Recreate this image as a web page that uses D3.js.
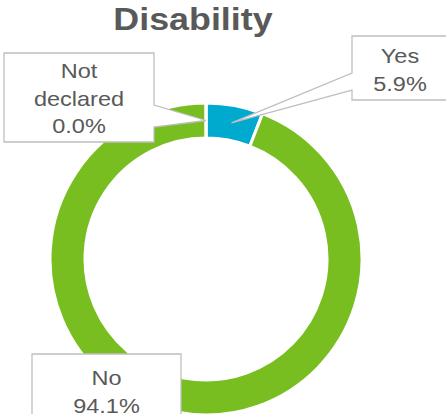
<!DOCTYPE html>
<html>
<head>
<meta charset="utf-8">
<script src="https://cdn.jsdelivr.net/npm/d3@7"></script>
<style>
  body { margin: 0; background: #fff; }
  svg { display: block; font-family: Arial, "Liberation Sans", sans-serif; }
</style>
</head>
<body>
<div id="chart"></div>
<script>
// données
const categories = ["Yes", "No", "Not declared"];
const values = [5.9, 94.1, 0.0];
const labelLines = [["Yes"], ["No"], ["Not", "declared"]];
const colors = ["#00A9CE", "#78BE21", "#A5A5A5"];

const width = 446, height = 414;
const cx = 206, cy = 259;
const outerR = 156, innerR = 121;
const textColor = "#595959";
const stretch = 1.12;

// boîtes des étiquettes (x0, y0, x1, y1, côté du pointeur, base du pointeur)
const boxes = [
  { x0: 352, y0: 36, x1: 448, y1: 100, side: "left", b0: 73, b1: 90, top: 63 },
  { x0: 32, y0: 354, x1: 181, y1: 420, side: null, top: 385 },
  { x0: 4, y0: 53, x1: 154, y1: 142, side: "right", b0: 105, b1: 127, top: 78 }
];

const data = categories.map((c, i) => ({ name: c, value: values[i], lines: labelLines[i], color: colors[i] }));

const svg = d3.select("#chart")
  .append("svg")
  .attr("width", width)
  .attr("height", height);

// titre
svg.append("text")
  .attr("transform", `translate(193,30) scale(${stretch},1)`)
  .attr("text-anchor", "middle")
  .style("font-size", "32px")
  .style("font-weight", "bold")
  .style("fill", textColor)
  .text("Disability");

const pie = d3.pie().sort(null).value(d => d.value);
const arc = d3.arc().outerRadius(outerR).innerRadius(innerR);
const arcs = pie(data);

const g = svg.append("g").attr("transform", `translate(${cx},${cy})`);

g.selectAll("path")
  .data(arcs)
  .enter()
  .append("path")
  .attr("d", arc)
  .attr("fill", d => d.data.color)
  .attr("stroke", "#fff")
  .attr("stroke-width", 3);

// étiquettes avec pointeur
arcs.forEach((d, i) => {
  const b = boxes[i];
  const c = arc.centroid(d);
  const tx = cx + c[0], ty = cy + c[1];
  let p;
  if (b.side === "left") {
    p = `M${b.x0},${b.y0}H${b.x1}V${b.y1}H${b.x0}V${b.b1}L${tx},${ty}L${b.x0},${b.b0}Z`;
  } else if (b.side === "right") {
    p = `M${b.x0},${b.y0}H${b.x1}V${b.b0}L${tx},${ty}L${b.x1},${b.b1}V${b.y1}H${b.x0}Z`;
  } else {
    p = `M${b.x0},${b.y0}H${b.x1}V${b.y1}H${b.x0}Z`;
  }
  svg.append("path")
    .attr("d", p)
    .attr("fill", "#fff")
    .attr("stroke", "#BFBFBF")
    .attr("stroke-width", 1.3);

  const lines = d.data.lines.concat([d.data.value.toFixed(1) + "%"]);
  const mx = (b.x0 + b.x1) / 2;
  lines.forEach((t, j) => {
    svg.append("text")
      .attr("transform", `translate(${mx},${b.top + j * 27.5}) scale(${stretch},1)`)
      .attr("text-anchor", "middle")
      .style("font-size", "21px")
      .style("fill", textColor)
      .text(t);
  });
});
</script>
</body>
</html>
